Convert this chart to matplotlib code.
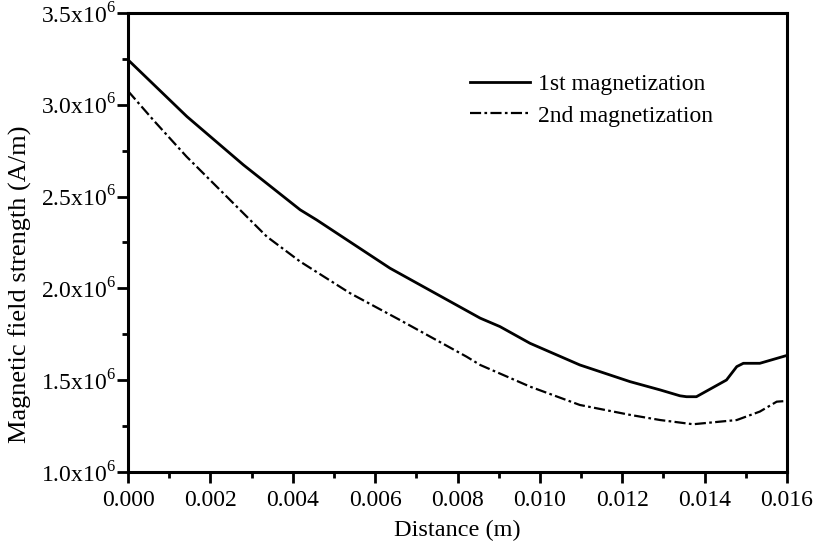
import matplotlib
matplotlib.use("Agg")
import matplotlib.pyplot as plt
from matplotlib.ticker import MultipleLocator, FuncFormatter

plt.rcParams['font.family'] = ['Liberation Serif', 'DejaVu Serif']
plt.rcParams['mathtext.fontset'] = 'custom'
plt.rcParams['mathtext.rm'] = 'Liberation Serif'

# 1st magnetization (solid)
x1 = [0.0, 0.00143, 0.0028, 0.00418, 0.00458, 0.00636, 0.00855, 0.00903, 0.00976,
      0.01097, 0.01219, 0.01292, 0.0134, 0.01356, 0.0138, 0.01453, 0.01478,
      0.01494, 0.01534, 0.0160]
h1 = [3.245e6, 2.936e6, 2.673e6, 2.428e6, 2.373e6, 2.110e6, 1.838e6, 1.792e6, 1.701e6,
      1.583e6, 1.492e6, 1.447e6, 1.415e6, 1.410e6, 1.410e6, 1.501e6, 1.574e6,
      1.592e6, 1.592e6, 1.635e6]

# 2nd magnetization (dash-dot)
x2 = [0.0, 0.00061, 0.00142, 0.00223, 0.00337, 0.00418, 0.00539, 0.0066, 0.00822,
      0.00855, 0.00976, 0.01097, 0.01219, 0.01292, 0.01372, 0.01478, 0.01534,
      0.01575, 0.0160]
h2 = [3.075e6, 2.918e6, 2.718e6, 2.537e6, 2.282e6, 2.146e6, 1.974e6, 1.828e6, 1.628e6,
      1.583e6, 1.465e6, 1.365e6, 1.311e6, 1.283e6, 1.260e6, 1.283e6, 1.329e6,
      1.383e6, 1.387e6]

labels = ["1st magnetization", "2nd magnetization"]

fig = plt.figure(figsize=(8.17, 5.51), dpi=100)
ax = fig.add_axes([0.1567, 0.1434, 0.8066, 0.833])

ax.plot(x1, h1, color='black', lw=2.0, label=labels[0])
ax.plot(x2, h2, color='black', lw=1.6, linestyle=(0, (5, 1.5, 1.2, 1.5)), label=labels[1])

ax.set_xlim(0, 0.016)
ax.set_ylim(1.0e6, 3.5e6)
ax.xaxis.set_major_locator(MultipleLocator(0.002))
ax.xaxis.set_minor_locator(MultipleLocator(0.001))
ax.yaxis.set_major_locator(MultipleLocator(0.5e6))
ax.yaxis.set_minor_locator(MultipleLocator(0.25e6))
ax.xaxis.set_major_formatter(FuncFormatter(lambda v, p: f"{v:.3f}"))
ax.yaxis.set_major_formatter(FuncFormatter(lambda v, p: f"{v/1e6:.1f}x10$^{{6}}$"))

for s in ax.spines.values():
    s.set_linewidth(2.2)
ax.tick_params(which='major', direction='out', length=8, width=2.0, labelsize=17)
ax.tick_params(axis='x', which='major', pad=5)
ax.tick_params(axis='y', which='major', pad=1)
ax.tick_params(which='minor', direction='out', length=4.3, width=2.0)

ax.set_xlabel("Distance (m)", fontsize=17.5, labelpad=6)
ax.set_ylabel("Magnetic field strength (A/m)", fontsize=19)
ax.yaxis.set_label_coords(-0.145, 0.41)

ax.legend(loc='upper left', bbox_to_anchor=(0.519, 0.868), frameon=False, fontsize=17,
          handlelength=2.55, handletextpad=0.34, labelspacing=0.42,
          borderpad=0, borderaxespad=0)

fig.savefig("out.png", dpi=100)
